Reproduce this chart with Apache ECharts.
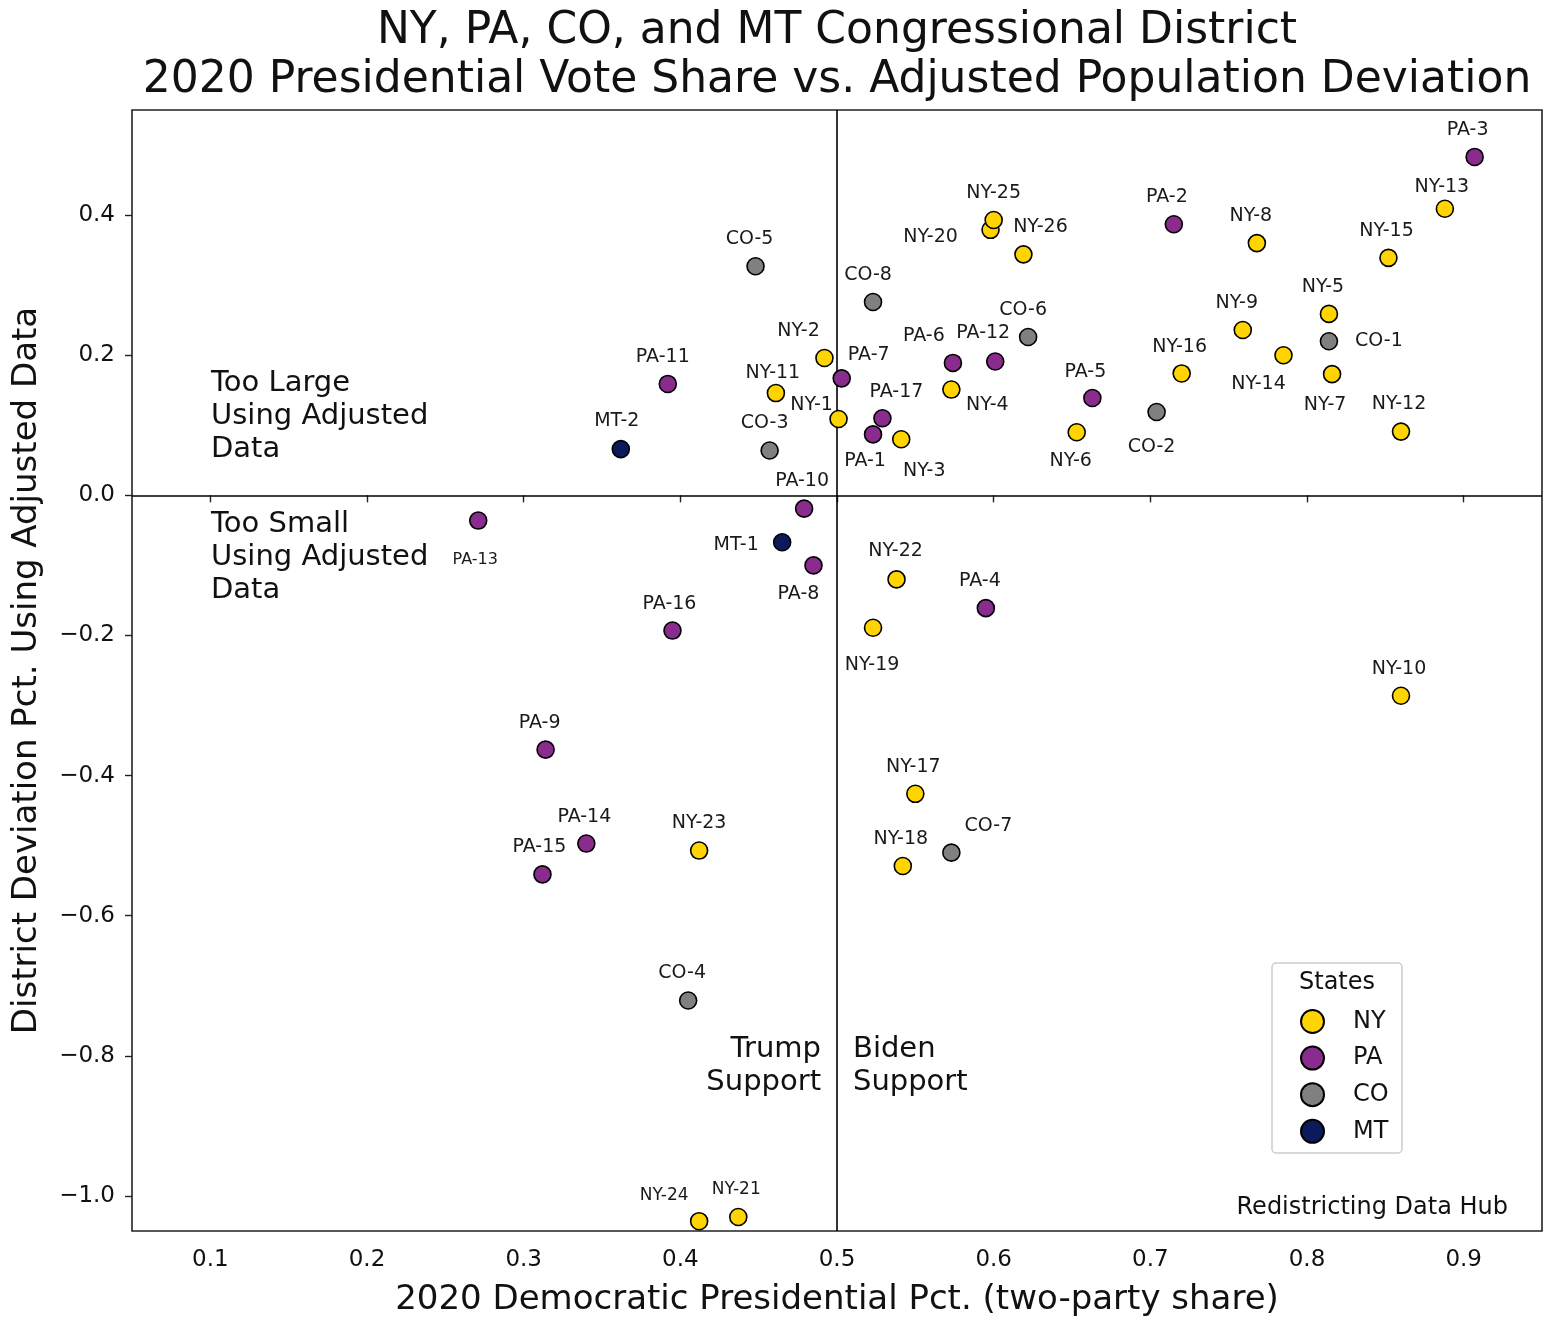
<!DOCTYPE html>
<html><head><meta charset="utf-8">
<script src="https://cdn.jsdelivr.net/npm/echarts@6/dist/echarts.min.js"></script>
<style>html,body{margin:0;padding:0;background:#fff}#c{width:1555px;height:1318px}</style>
</head><body><div id="c"></div>
<script>
// ---------- data ----------
const states = ['NY', 'PA', 'CO', 'MT'];
const nyDistricts = ['NY-1','NY-2','NY-3','NY-4','NY-5','NY-6','NY-7','NY-8','NY-9','NY-10','NY-11','NY-12','NY-13','NY-14','NY-15','NY-16','NY-17','NY-18','NY-19','NY-20','NY-21','NY-22','NY-23','NY-24','NY-25','NY-26'];
const nyDemPct = [0.501,0.492,0.541,0.573,0.814,0.653,0.816,0.768,0.759,0.860,0.461,0.860,0.888,0.785,0.852,0.720,0.550,0.542,0.523,0.598,0.437,0.538,0.412,0.412,0.600,0.619];
const nyDeviation = [0.109,0.196,0.080,0.151,0.259,0.090,0.173,0.360,0.236,-0.286,0.146,0.091,0.409,0.200,0.339,0.174,-0.426,-0.529,-0.189,0.379,-1.030,-0.120,-0.507,-1.036,0.393,0.344];

const paDistricts = ['PA-1','PA-2','PA-3','PA-4','PA-5','PA-6','PA-7','PA-8','PA-9','PA-10','PA-11','PA-12','PA-13','PA-14','PA-15','PA-16','PA-17'];
const paDemPct = [0.523,0.715,0.907,0.595,0.663,0.574,0.503,0.485,0.314,0.479,0.392,0.601,0.271,0.340,0.312,0.395,0.529];
const paDeviation = [0.087,0.387,0.483,-0.161,0.139,0.189,0.167,-0.100,-0.363,-0.019,0.159,0.191,-0.036,-0.497,-0.541,-0.193,0.110];

const coDistricts = ['CO-1','CO-2','CO-3','CO-4','CO-5','CO-6','CO-7','CO-8'];
const coDemPct = [0.814,0.704,0.457,0.405,0.448,0.622,0.573,0.523];
const coDeviation = [0.220,0.119,0.064,-0.721,0.327,0.226,-0.510,0.276];

const mtDistricts = ['MT-1','MT-2'];
const mtDemPct = [0.465,0.362];
const mtDeviation = [-0.067,0.066];

const xTicks = [0.1,0.2,0.3,0.4,0.5,0.6,0.7,0.8,0.9];
const yTicks = [-1.0,-0.8,-0.6,-0.4,-0.2,0.0,0.2,0.4];
const splitX = 0.5, splitY = 0.0;

// ---------- styling (label placement offsets in px, relative to point) ----------
const labelOffsets = {
 'PA-3':[-7,-27],'NY-13':[-3,-22],'NY-15':[-2,-27],'PA-2':[-7,-27],'NY-8':[-6,-27],
 'NY-25':[0,-27],'NY-20':[-60,7],'NY-26':[17,-27],'CO-5':[-6,-27],'CO-8':[-5,-27],
 'NY-5':[-6,-27],'NY-9':[-6,-27],'CO-1':[50,0],'CO-6':[-5,-27],'NY-14':[-25,29],
 'NY-2':[-26,-27],'PA-6':[-29,-27],'PA-12':[-12,-28],'PA-11':[-5,-27],'NY-16':[-2,-26],
 'NY-7':[-7,31],'PA-7':[27,-23],'NY-11':[-3,-20],'NY-4':[36,16],'PA-5':[-7,-26],
 'NY-1':[-27,-14],'PA-17':[14,-26],'CO-2':[-5,35],'NY-12':[-2,-28],'PA-1':[-8,27],
 'NY-6':[-6,29],'NY-3':[23,32],'MT-2':[-4,-28],'CO-3':[-5,-27],'PA-10':[-2,-28],
 'PA-13':[-3,39],'MT-1':[-46,3],'PA-8':[-15,29],'NY-22':[-1,-28],'PA-4':[-6,-27],
 'NY-19':[-1,37],'PA-16':[-3,-27],'NY-10':[-2,-27],'PA-9':[-6,-27],'NY-17':[-2,-27],
 'PA-14':[-2,-26],'NY-23':[0,-27],'CO-7':[37,-27],'NY-18':[-2,-27],'PA-15':[-3,-27],
 'CO-4':[-6,-27],'NY-24':[-35,-26],'NY-21':[-2,-27]
};
const smallLabels = {'PA-13':16,'NY-24':17,'NY-21':17};
const colors = {NY:'#FFD400', PA:'#8A2B8E', CO:'#808080', MT:'#0B1A5A'};
const FONT = '"DejaVu Sans", sans-serif';

function buildData(names, xs, ys){
  return names.map((n,i)=>({
    name:n, value:[xs[i], ys[i]],
    label:{offset: labelOffsets[n] || [0,-27], fontSize: smallLabels[n] || 19}
  }));
}
const seriesSrc = {
  NY: buildData(nyDistricts, nyDemPct, nyDeviation),
  PA: buildData(paDistricts, paDemPct, paDeviation),
  CO: buildData(coDistricts, coDemPct, coDeviation),
  MT: buildData(mtDistricts, mtDemPct, mtDeviation)
};
const fmt = v => { const s = Math.abs(v) < 1e-9 ? '0.0' : v.toFixed(1); return s.replace('-', '\u2212'); };

const series = states.map((st, idx) => ({
  name: st, type:'scatter', data: seriesSrc[st], symbol:'circle', symbolSize:17,
  itemStyle:{color:colors[st], borderColor:'#000', borderWidth:1.6, opacity:1},
  label:{show:true, position:'inside', formatter:'{b}', color:'#1a1a1a', fontFamily:FONT},
  emphasis:{disabled:true}, z: 5,
  markLine: idx === 0 ? {
    silent:true, symbol:['none','none'], label:{show:false},
    lineStyle:{color:'#000', width:1.6, type:'solid'},
    data:[{xAxis:splitX},{yAxis:splitY}], animation:false
  } : undefined
}));

const chart = echarts.init(document.getElementById('c'));
chart.setOption({
  animation:false,
  backgroundColor:'#fff',
  textStyle:{fontFamily:FONT},
  grid:{left:132, right:13, top:110, bottom:87, containLabel:false, outerBoundsMode:'none',
        show:true, borderColor:'#222', borderWidth:1.6, backgroundColor:'transparent'},
  xAxis:{
    type:'value', min:0.05, max:0.95,
    name:'2020 Democratic Presidential Pct. (two-party share)', nameLocation:'middle', nameGap:52,
    nameTextStyle:{fontSize:34, color:'#111', fontFamily:FONT},
    axisLine:{show:false}, splitLine:{show:false},
    axisTick:{show:true, inside:false, length:7, customValues:xTicks, lineStyle:{color:'#222', width:1.4}},
    axisLabel:{customValues:xTicks, formatter:fmt, fontSize:23, color:'#111', margin:18, fontFamily:FONT}
  },
  yAxis:{
    type:'value', min:-1.05, max:0.55,
    name:'District Deviation Pct. Using Adjusted Data', nameLocation:'middle', nameGap:88, nameRotate:90,
    nameTextStyle:{fontSize:34, color:'#111', fontFamily:FONT},
    axisLine:{show:false}, splitLine:{show:false},
    axisTick:{show:true, inside:false, length:7, customValues:yTicks, lineStyle:{color:'#222', width:1.4}},
    axisLabel:{customValues:yTicks, formatter:fmt, fontSize:23, color:'#111', margin:17, fontFamily:FONT}
  },
  legend:{
    data:states, orient:'vertical', left:1295, top:1004, itemWidth:23, itemHeight:23, itemGap:11.6,
    icon:'circle', textStyle:{fontSize:24, color:'#111', fontFamily:FONT, padding:[0,0,0,24]},
    selectedMode:false, z:10
  },
  graphic:[
    {type:'text', x:837, y:7, style:{text:'NY, PA, CO, and MT Congressional District\n2020 Presidential Vote Share vs. Adjusted Population Deviation', font:'44px '+FONT, fill:'#111', textAlign:'center', lineHeight:49}},
    {type:'rect', x:1272, y:963, shape:{width:130, height:190, r:4}, style:{fill:'#fff', stroke:'#ccc', lineWidth:1.5}, z:9},
    {type:'text', x:1337, y:971, style:{text:'States', font:'24px '+FONT, fill:'#111', textAlign:'center'}, z:10},
    {type:'text', x:211, y:367, style:{text:'Too Large\nUsing Adjusted\nData', font:'29px '+FONT, fill:'#111', lineHeight:33}},
    {type:'text', x:211, y:508, style:{text:'Too Small\nUsing Adjusted\nData', font:'29px '+FONT, fill:'#111', lineHeight:33}},
    {type:'text', x:821, y:1033, style:{text:'Trump\nSupport', font:'29px '+FONT, fill:'#111', lineHeight:33, textAlign:'right'}},
    {type:'text', x:853, y:1033, style:{text:'Biden\nSupport', font:'29px '+FONT, fill:'#111', lineHeight:33, textAlign:'left'}},
    {type:'text', x:1508, y:1196, style:{text:'Redistricting Data Hub', font:'24px '+FONT, fill:'#111', textAlign:'right'}}
  ],
  series: series
});
</script></body></html>
